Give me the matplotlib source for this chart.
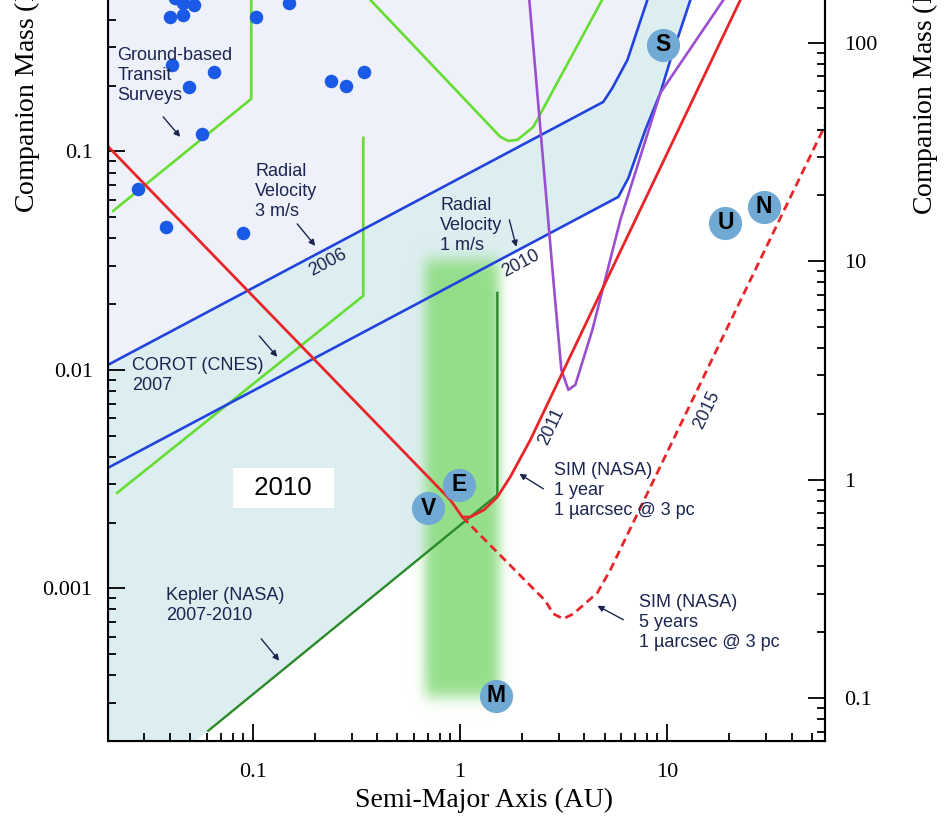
import numpy as np
import matplotlib.pyplot as plt
from matplotlib.colors import LinearSegmentedColormap
from matplotlib.ticker import FuncFormatter

plt.rcParams['font.family'] = 'Liberation Serif'
plt.rcParams['mathtext.fontset'] = 'stix'

# semi-major axis (AU) and companion mass (Jupiter masses)
rv3_a = [0.02, 4.93, 5.46, 6.45, 8.05, 10.28]
rv3_m = [0.01054, 0.1684, 0.1953, 0.2623, 0.4935, 1.0]

rv1_a = [0.02, 5.83, 6.52, 7.87, 9.30, 10.40, 12.99, 16.59]
rv1_m = [0.00356, 0.0619, 0.0756, 0.1254, 0.1852, 0.2623, 0.4935, 1.0]

sim1_a = [0.02, 0.90, 1.028, 1.124, 1.313, 1.518, 1.754, 2.191, 22.65, 32.3]
sim1_m = [0.1053, 0.00254, 0.00212, 0.00212, 0.00229, 0.00262, 0.00324, 0.00478, 0.4935, 1.0]

sim5_a = [1.028, 2.588, 2.829, 3.162, 3.534, 4.617, 5.335, 57.0, 62.0]
sim5_m = [0.00212, 0.000877, 0.000764, 0.000725, 0.000764, 0.000954, 0.001215, 0.1268, 0.150]

purple_a = [2.033, 2.166, 2.829, 3.093, 3.344, 3.614, 4.366, 5.963, 9.303, 18.75, 30.6]
purple_m = [1.0, 0.4935, 0.0258, 0.0100, 0.0081, 0.00854, 0.01524, 0.0486, 0.1852, 0.4935, 1.0]

gv_a = [0.1824, 1.569, 1.715, 1.896, 2.265, 7.284]
gv_m = [1.0, 0.1165, 0.1117, 0.1129, 0.1294, 1.0]

transit_a = [0.02119, 0.09835, 0.09835]
transit_m = [0.05341, 0.1739, 1.0]

corot_a = [0.02215, 0.3418, 0.3418]
corot_m = [0.002736, 0.02182, 0.1153]

kepler_a = [0.06095, 1.518, 1.518]
kepler_m = [0.0002227, 0.002679, 0.0225]

# habitable zone band
hz_a = [0.68, 1.55]
hz_m = [0.00032, 0.032]

dots_a = [0.0399, 0.0461, 0.0521, 0.0461, 0.0422, 0.104, 0.150, 0.0408, 0.0651, 0.0493,
          0.057, 0.028, 0.0382, 0.090, 0.239, 0.283, 0.346]
dots_m = [0.4125, 0.4217, 0.468, 0.479, 0.504, 0.4125, 0.479, 0.249, 0.231, 0.197,
          0.120, 0.0673, 0.0451, 0.0423, 0.210, 0.1995, 0.231]

planet_names = ['V', 'E', 'M', 'S', 'U', 'N']
planet_a = [0.705, 0.9945, 1.501, 9.586, 19.17, 29.36]
planet_m = [0.00233, 0.002976, 0.000322, 0.3072, 0.0472, 0.0559]

MJ_ME = 317.8
xmin, xmax = 0.02, 58
ymin, ymax = 0.0002, 0.8

navy = '#1c2550'
red = '#e8262a'
blue = '#2244dd'
lgreen = '#66dd33'
dgreen = '#2a8a2a'
purple = '#9a4fd0'

fig = plt.figure(figsize=(9.49, 8.26), dpi=100)
ax = fig.add_axes([0.1138, 0.1029, 0.7555, 0.9527])
ax.set_xscale('log')
ax.set_yscale('log')
ax.set_xlim(xmin, xmax)
ax.set_ylim(ymin, ymax)

# shaded detection regions
ax.fill([xmin, 0.053] + kepler_a + [xmin], [ymin, ymin] + kepler_m + [kepler_m[-1]],
        color='#ddeef1', lw=0, zorder=0.1)
ax.fill(rv1_a + [xmin], rv1_m + [1.0], color='#ddeef1', lw=0, zorder=0.2)
ax.fill(rv3_a + [xmin], rv3_m + [1.0], color='#eef1fa', lw=0, zorder=0.5)

# habitable zone: soft-edged green band
ga = np.logspace(np.log10(0.45), np.log10(2.4), 300)
gm = np.logspace(-4.0, -1.0, 400)
u = np.log10(ga)[None, :]
v = np.log10(gm)[:, None]
wx, wy = 0.032, 0.04
fx = 0.5 * (np.tanh((u - np.log10(hz_a[0])) / wx) - np.tanh((u - np.log10(hz_a[1])) / wx))
fy = 0.5 * (np.tanh((v - np.log10(hz_m[0])) / wy) - np.tanh((v - np.log10(hz_m[1])) / wy))
hz_cmap = LinearSegmentedColormap.from_list('hz', [(0.58, 0.87, 0.54, 0.0), (0.58, 0.87, 0.54, 1.0)])
ax.pcolormesh(ga, gm, fx * fy, cmap=hz_cmap, vmin=0, vmax=1, shading='nearest',
              antialiased=False, zorder=1)

# curves
ax.plot(transit_a, transit_m, color=lgreen, lw=1.9, zorder=2)
ax.plot(corot_a, corot_m, color=lgreen, lw=1.9, zorder=2)
ax.plot(gv_a, gv_m, color=lgreen, lw=1.9, zorder=2)
ax.plot(kepler_a, kepler_m, color=dgreen, lw=1.7, zorder=2)
ax.plot(rv3_a, rv3_m, color=blue, lw=1.9, zorder=2)
ax.plot(rv1_a, rv1_m, color=blue, lw=1.9, zorder=2)
ax.plot(purple_a, purple_m, color=purple, lw=1.9, zorder=2)
ax.plot(sim1_a, sim1_m, color=red, lw=2.0, zorder=2.2)
ax.plot(sim5_a, sim5_m, color=red, lw=2.0, ls=(0, (3.0, 1.8)), zorder=2.2)

# known planets
ax.scatter(dots_a, dots_m, s=95, color='#1a5ae6', lw=0, zorder=3)
ax.scatter(planet_a, planet_m, s=570, color='#70aad4', lw=0, zorder=3)
for name, a, m in zip(planet_names, planet_a, planet_m):
    ax.text(a, m, name, ha='center', va='center', fontsize=16.5, fontweight='bold',
            family='Liberation Sans', color='black', zorder=4)

# labels and arrows
sans = dict(family='Liberation Sans', color=navy, fontsize=13, zorder=4)
labels = [
    ('Ground-based\nTransit\nSurveys', 0.02215, 0.3008),
    ('Radial\nVelocity\n3 m/s', 0.1028, 0.08858),
    ('Radial\nVelocity\n1 m/s', 0.805, 0.06188),
    ('COROT (CNES)\n2007', 0.02617, 0.01147),
    ('Kepler (NASA)\n2007-2010', 0.03821, 0.001016),
    ('SIM (NASA)\n1 year\n1 \u00b5arcsec @ 3 pc', 2.860, 0.003792),
    ('SIM (NASA)\n5 years\n1 \u00b5arcsec @ 3 pc', 7.365, 0.000944),
]
for txt, a, m in labels:
    ax.text(a, m, txt, ha='left', va='top', linespacing=1.25, **sans)

arrows = [
    ((0.03694, 0.1438), (0.04465, 0.1165)),
    ((0.164, 0.04657), (0.2004, 0.03694)),
    ((1.734, 0.04859), (1.875, 0.03655)),
    ((0.1075, 0.01430), (0.1313, 0.01147)),
    ((0.1099, 0.000587), (0.1343, 0.000466)),
    ((2.532, 0.002853), (1.939, 0.003342)),
    ((6.165, 0.000718), (4.617, 0.000832)),
]
for tail, head in arrows:
    ax.annotate('', xy=head, xytext=tail, zorder=4,
                arrowprops=dict(arrowstyle='-|>', color=navy, lw=1.0,
                                mutation_scale=9, shrinkA=0, shrinkB=0))

years = [('2006', 0.2316, 0.03088, 28), ('2010', 1.960, 0.03056, 28),
         ('2011', 2.767, 0.005484, 64.5), ('2015', 15.52, 0.006558, 64.2)]
for txt, a, m, rot in years:
    ax.text(a, m, txt, ha='center', va='center', rotation=rot,
            rotation_mode='anchor', **sans)

ax.text(0.1404, 0.002884, '  2010  ', ha='center', va='center', fontsize=18.5,
        family='Liberation Sans', color='black', zorder=4,
        bbox=dict(boxstyle='square,pad=0.3', facecolor='white', edgecolor='none'))

# axes styling
fmt = FuncFormatter(lambda val, pos: f'{val:g}')
ax.xaxis.set_major_formatter(fmt)
ax.yaxis.set_major_formatter(fmt)
ax.tick_params(which='both', direction='in', width=1.3, labelsize=16, top=False, right=False)
ax.tick_params(which='major', length=12)
ax.tick_params(which='minor', length=6)
ax.tick_params(axis='y', pad=11)
ax.tick_params(axis='x', pad=16)
for side in ['left', 'bottom', 'right']:
    ax.spines[side].set_linewidth(1.5)
ax.spines['top'].set_visible(False)

ax2 = ax.twinx()
ax2.set_yscale('log')
ax2.set_ylim(ymin * MJ_ME, ymax * MJ_ME)
ax2.yaxis.set_major_formatter(fmt)
ax2.tick_params(which='both', direction='in', width=1.3, labelsize=16)
ax2.tick_params(which='major', length=12)
ax2.tick_params(which='minor', length=6)
ax2.tick_params(axis='y', pad=14)
ax2.spines['right'].set_linewidth(1.5)
ax2.spines['top'].set_visible(False)

fig.text(484 / 949, 1 - 800 / 826, 'Semi-Major Axis (AU)', ha='center', va='center', fontsize=20)
fig.text(27 / 949, 1 - 213 / 826, 'Companion Mass (M$_{\\rm J}$)', rotation=90,
         ha='center', va='bottom', fontsize=20)
fig.text(925 / 949, 1 - 215 / 826, 'Companion Mass (M$_{\\oplus}$)', rotation=90,
         ha='center', va='bottom', fontsize=20)

fig.savefig('out.png', dpi=100)
